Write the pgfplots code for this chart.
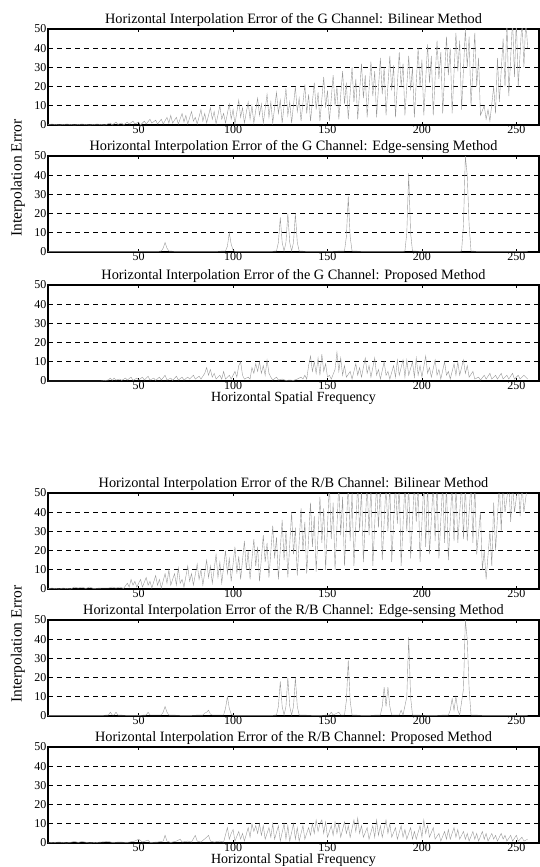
\documentclass[border=0pt]{standalone}
\usepackage{fontspec}
\setmainfont{Liberation Serif}
\usepackage{pgfplots}
\pgfplotsset{compat=1.18}

\pgfplotsset{
  errpanel/.style={
    scale only axis, width=491pt, height=96pt,
    anchor=north west,
    xmin=2, xmax=262, ymin=0, ymax=50,
    xtick={50,100,150,200,250}, ytick={0,10,...,50},
    tick align=inside, major tick length=3pt,
    tick style={black, line width=0.8pt},
    axis line style={black, line width=1.1pt},
    ymajorgrids,
    grid style={black, line width=0.8pt, dash pattern=on 5pt off 4pt},
    /pgf/number format/assume math mode=true,
    ticklabel style={font=\fontsize{12}{13}\selectfont},
    xticklabel style={yshift=3.5pt},
    yticklabel style={xshift=2pt},
    title style={font=\fontsize{14.3}{15}\selectfont, yshift=-7pt},
    label style={font=\fontsize{14}{15}\selectfont},
    xlabel style={yshift=4pt},
    cycle list={{black!40, line width=0.9pt, mark=none}},
  },
}

\begin{document}
\begin{tikzpicture}
\useasboundingbox (-48pt,0pt) rectangle (491pt,-867pt);

% ---------------- G channel ----------------
\begin{axis}[errpanel, at={(0pt,-29pt)},
  title={Horizontal Interpolation Error of the G Channel: Bilinear Method}]
\addplot coordinates {(1,0) (4,0.5) (8,0) (12,0.5) (16,0) (20,0.5) (24,0) (28,0.5) (32,0) (35,1) (36,0) (38,1.5) (39,0.3) (41,1) (42,0) (44,1.5) (45,0.5) (47,2) (48,0.5) (50,1.5) (51,0) (53,2) (54,0.5) (56,3) (57,1) (59,2.5) (60,0.5) (62,3) (63,0.5) (65,4) (66,1) (67,5) (68,1) (70,4) (71,0.5) (73,6) (74,1.5) (75,5) (76,0.5) (78,7) (79,2) (80,4) (81,0.5) (83,8) (84,2) (85,6) (86,1) (88,9) (89,3) (90,7) (91,0.5) (93,10) (94,3) (95,6) (96,1) (98,11) (99,3) (100,8) (101,0.5) (103,13) (104,4) (105,9) (106,1) (108,12) (109,3) (110,10) (111,1) (113,14) (114,5) (115,11) (116,1) (118,16) (119,4) (120,12) (121,1) (123,17) (124,6) (125,13) (126,1) (128,19) (129,5) (130,12) (131,1) (133,20) (134,7) (135,14) (136,2) (138,21) (139,6) (140,16) (141,2) (143,22) (144,8) (145,17) (146,2) (148,25) (149,9) (150,18) (151,2) (153,26) (154,10) (155,20) (156,3) (158,28) (159,11) (160,22) (161,3) (163,30) (164,12) (165,24) (166,3) (168,32) (169,14) (170,26) (171,4) (173,33) (174,15) (175,28) (176,4) (178,35) (179,16) (180,30) (181,5) (183,36) (184,18) (185,31) (186,4) (188,38) (189,20) (190,32) (191,5) (193,36) (194,18) (195,30) (196,4) (198,40) (199,20) (200,34) (201,5) (203,42) (204,22) (205,36) (206,5) (208,44) (209,24) (210,38) (211,6) (213,46) (214,26) (215,40) (216,6) (218,48) (219,28) (220,44) (221,8) (223,50) (224,30) (225,46) (226,10) (228,48) (229,20) (230,35) (231,5) (233,10) (234,3) (235,8) (236,2) (238,20) (239,6) (240,35) (241,12) (243,45) (244,20) (245,55) (246,15) (248,55) (249,25) (250,55) (251,20) (253,55) (254,30) (255,55) (256,40)};
\end{axis}

\begin{axis}[errpanel, at={(0pt,-156pt)},
  title={Horizontal Interpolation Error of the G Channel: Edge-sensing Method}]
\addplot coordinates {(1,0.3) (10,0.3) (20,0.3) (30,0.3) (40,0.3) (50,0.3) (60,0.3) (62,0.5) (63,2) (64,5) (65,2) (66,0.5) (70,0.3) (80,0.3) (90,0.3) (96,0.5) (97,3) (98,10) (99,4) (100,1) (101,0.3) (110,0.3) (120,0.3) (123,0.5) (124,5) (125,18) (126,5) (127,0.5) (128,5) (129,20) (130,5) (131,0.5) (132,5) (133,20) (134,5) (135,0.5) (140,0.3) (150,0.3) (159,0.5) (160,8) (161,29) (162,8) (163,0.5) (170,0.3) (180,0.3) (190,0.3) (191,0.5) (192,10) (193,41) (194,10) (195,0.5) (200,0.3) (210,0.3) (220,0.3) (221,0.5) (222,14) (223,50) (224,40) (225,14) (226,0.5) (230,0.3) (240,0.3) (250,0.3) (256,0.3)};
\end{axis}

\begin{axis}[errpanel, at={(0pt,-285pt)},
  title={Horizontal Interpolation Error of the G Channel: Proposed Method},
  xlabel={Horizontal Spatial Frequency}]
\addplot coordinates {(1,0) (10,0) (20,0) (30,0) (34,0.5) (35,1.5) (36,0.3) (37,1.5) (38,0.5) (40,1) (41,0.3) (43,1.5) (44,0.5) (46,2) (47,0.3) (49,1.5) (50,0.5) (52,2) (53,0.5) (55,2.5) (56,0.5) (58,1.5) (59,0.3) (61,2) (62,0.5) (64,3) (65,0.5) (67,1.5) (68,0.3) (70,2.5) (71,0.5) (73,2) (74,0.5) (76,2) (77,1) (79,3) (80,1) (82,2.5) (83,1) (85,4) (86,7) (87,3) (88,6) (89,2) (90,4) (91,1) (93,3) (94,1) (95,5) (96,1) (98,3) (99,1) (101,5) (102,2) (103,8) (104,10) (105,3) (106,1) (108,2) (109,1) (110,7) (111,4) (112,9) (113,5) (114,10) (115,4) (116,8) (117,3) (118,11) (119,4) (120,2) (121,0.5) (123,2) (124,0.5) (126,1) (128,0.3) (130,0.5) (132,0.3) (134,1) (136,2) (137,1) (138,3) (139,1) (140,8) (141,13) (142,5) (143,10) (144,4) (145,12) (146,3) (147,14) (148,5) (149,9) (150,2) (151,3) (152,1) (154,6) (155,15) (156,5) (157,12) (158,3) (159,8) (160,2) (162,5) (163,1) (165,9) (166,3) (167,7) (168,2) (170,12) (171,4) (172,8) (173,2) (175,12) (176,3) (177,6) (178,1) (180,10) (181,3) (182,5) (183,1) (185,8) (186,2) (187,11) (188,3) (190,11) (191,2) (192,11) (193,3) (195,10) (196,2) (197,12) (198,3) (199,8) (200,2) (202,13) (203,4) (204,7) (205,2) (207,11) (208,3) (209,6) (210,1) (212,10) (213,3) (214,5) (215,1) (217,9) (218,3) (219,10) (220,3) (222,11) (223,4) (224,8) (225,2) (227,5) (228,1) (230,2) (231,0.5) (233,3) (234,1) (236,4) (237,1) (239,3) (240,1) (242,4) (243,1) (245,3) (246,1) (248,4) (249,1) (251,3) (252,1) (254,3) (256,1)};
\end{axis}

\node[rotate=90, font=\fontsize{15.5}{16}\selectfont] at (-30pt,-178pt) {Interpolation Error};

% ---------------- R/B channel ----------------
\begin{axis}[errpanel, at={(0pt,-493pt)},
  title={Horizontal Interpolation Error of the R/B Channel: Bilinear Method}]
\addplot coordinates {(1,0) (4,0.5) (8,0) (10,0.5) (14,0) (16,1) (18,0.5) (20,1) (22,0.3) (24,1) (26,0.3) (30,0.5) (34,0.5) (36,1) (38,0.5) (40,1) (42,0.3) (44,3) (45,1) (46,5) (47,2) (48,4) (49,1) (51,5) (52,1) (54,6) (55,2) (56,4) (57,0.5) (59,7) (60,2) (61,5) (62,0.5) (64,8) (65,3) (66,10) (67,2) (69,8) (70,2) (71,11) (72,3) (73,5) (74,1) (76,12) (77,4) (78,8) (79,2) (81,13) (82,5) (83,10) (84,2) (86,15) (87,6) (88,12) (89,3) (91,18) (92,6) (93,14) (94,3) (96,20) (97,8) (98,16) (99,4) (101,22) (102,8) (103,17) (104,5) (106,25) (107,10) (108,20) (109,5) (111,26) (112,12) (113,22) (114,4) (116,28) (117,14) (118,24) (119,6) (121,33) (122,16) (123,27) (124,5) (126,36) (127,15) (128,30) (129,6) (131,40) (132,18) (133,32) (134,7) (136,42) (137,20) (138,35) (139,8) (141,45) (142,22) (143,38) (144,9) (146,48) (147,24) (148,42) (149,10) (151,55) (152,26) (153,45) (154,10) (156,55) (157,28) (158,48) (159,12) (161,55) (162,25) (163,50) (164,12) (166,55) (167,30) (168,52) (169,14) (171,55) (172,28) (173,55) (174,12) (176,55) (177,32) (178,55) (179,15) (181,55) (182,30) (183,55) (184,14) (186,55) (187,34) (188,55) (189,12) (191,55) (192,30) (193,55) (194,16) (196,55) (197,35) (198,55) (199,14) (201,55) (202,22) (203,55) (204,18) (206,55) (207,25) (208,55) (209,16) (211,55) (212,24) (213,55) (214,15) (216,55) (217,25) (218,55) (219,24) (221,55) (222,26) (223,55) (224,25) (226,55) (227,24) (228,55) (229,18) (231,40) (232,10) (233,20) (234,5) (236,30) (237,12) (238,45) (239,20) (241,55) (242,30) (243,55) (244,40) (246,55) (247,35) (248,55) (249,40) (251,55) (252,38) (253,55) (254,40) (256,55)};
\end{axis}

\begin{axis}[errpanel, at={(0pt,-620pt)},
  title={Horizontal Interpolation Error of the R/B Channel: Edge-sensing Method}]
\addplot coordinates {(1,0.3) (10,0.3) (20,0.3) (30,0.3) (34,0.5) (35,2) (36,0.5) (37,0.5) (38,2) (39,0.5) (45,0.3) (50,0.3) (54,0.5) (55,2) (56,0.5) (62,0.5) (63,2) (64,5) (65,2) (66,0.5) (75,0.3) (84,0.5) (85,1.5) (86,2) (87,3) (88,1) (89,0.5) (95,0.5) (96,4) (97,10) (98,4) (99,1) (100,0.3) (110,0.3) (120,0.3) (123,0.5) (124,5) (125,18) (126,5) (127,0.5) (128,5) (129,20) (130,5) (131,0.5) (132,5) (133,20) (134,5) (135,0.5) (145,0.3) (151,0.5) (152,2) (153,0.5) (156,2) (157,0.5) (159,0.5) (160,8) (161,29) (162,8) (163,0.5) (170,0.3) (178,0.5) (179,5) (180,15) (181,5) (182,15) (183,5) (184,0.5) (188,0.5) (189,3) (190,0.5) (192,10) (193,41) (194,10) (195,0.5) (205,0.3) (214,0.5) (215,3) (216,9) (217,3) (218,10) (219,3) (220,0.5) (222,14) (223,50) (224,40) (225,14) (226,0.5) (235,0.3) (245,0.3) (256,0.3)};
\end{axis}

\begin{axis}[errpanel, at={(0pt,-747pt)},
  title={Horizontal Interpolation Error of the R/B Channel: Proposed Method},
  xlabel={Horizontal Spatial Frequency}]
\addplot coordinates {(1,0) (8,0.5) (12,0) (16,0.8) (18,0.3) (20,0.8) (24,0) (30,0.5) (34,0.8) (36,0.3) (40,0.5) (44,0.3) (48,1) (50,2) (52,0.5) (55,1.5) (56,0.3) (60,0.5) (63,1) (64,4) (65,1) (67,0.3) (70,1) (72,2) (73,0.5) (76,1) (78,0.5) (80,4) (81,1) (83,0.5) (86,3) (87,4) (88,1) (90,0.5) (93,1) (95,0.5) (97,8) (98,2) (99,5) (100,7) (101,1) (103,6) (104,2) (105,5) (106,1) (108,8) (109,3) (110,10) (111,6) (112,9) (113,5) (114,10) (115,4) (116,9) (117,2) (119,8) (120,3) (121,10) (122,2) (124,9) (125,1) (127,10) (128,2) (129,9) (130,1) (132,10) (133,2) (134,8) (135,1) (137,9) (138,2) (140,8) (141,4) (142,10) (143,5) (144,12) (145,6) (146,10) (147,12) (148,5) (149,11) (150,3) (152,9) (153,4) (154,11) (155,5) (156,10) (157,3) (159,11) (160,5) (161,9) (162,3) (164,12) (165,6) (166,13) (167,5) (168,9) (169,3) (171,8) (172,2) (174,9) (175,3) (176,12) (177,4) (178,9) (179,3) (181,12) (182,5) (183,10) (184,3) (186,8) (187,2) (189,9) (190,3) (191,7) (192,2) (194,8) (195,2) (196,6) (197,2) (199,9) (200,3) (201,12) (202,5) (203,9) (204,3) (206,8) (207,2) (209,5) (210,1) (212,6) (213,2) (214,7) (215,2) (217,8) (218,3) (219,7) (220,2) (222,6) (223,2) (224,5) (225,1) (227,6) (228,2) (229,5) (230,1) (232,6) (233,2) (234,5) (235,1) (237,5) (238,2) (239,4) (240,1) (242,5) (243,2) (244,4) (245,1) (247,4) (248,1) (250,4) (251,1) (253,3) (254,1) (256,2)};
\end{axis}

\node[rotate=90, font=\fontsize{15.5}{16}\selectfont] at (-30pt,-644pt) {Interpolation Error};
\end{tikzpicture}
\end{document}
